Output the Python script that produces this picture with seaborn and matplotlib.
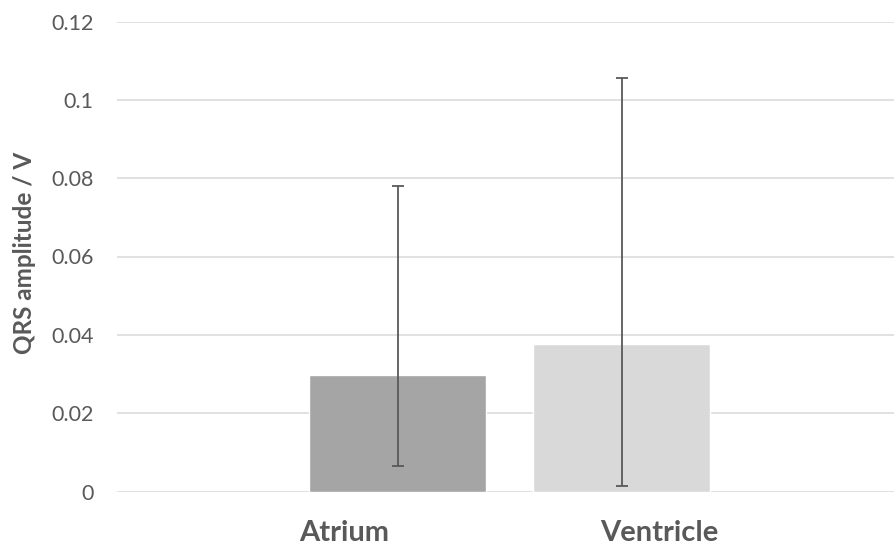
import matplotlib
matplotlib.use("Agg")
import matplotlib.pyplot as plt
import seaborn as sns
import pandas as pd
import numpy as np

categories = ["Atrium", "Ventricle"]
means = [0.0297, 0.0377]
err_low = [0.0297 - 0.0064, 0.0377 - 0.0014]
err_high = [0.0779 - 0.0297, 0.1057 - 0.0377]
bar_colors = ["#a5a5a5", "#d9d9d9"]
y_ticks = [0, 0.02, 0.04, 0.06, 0.08, 0.1, 0.12]
y_tick_labels = ["0", "0.02", "0.04", "0.06", "0.08", "0.1", "0.12"]

sns.set_theme(style="white")
plt.rcParams["font.family"] = ["Lato", "DejaVu Sans"]

df = pd.DataFrame({"category": categories, "value": means})

fig = plt.figure(figsize=(8.94, 5.47), dpi=100)
ax = fig.add_axes([117 / 894, 1 - 491.5 / 547, 1 - 117 / 894, 470 / 547])

sns.barplot(data=df, x="category", y="value", hue="category",
            palette=bar_colors, order=categories, hue_order=categories,
            width=0.79, saturation=1, legend=False, ax=ax, errorbar=None,
            zorder=3)

xpos = np.arange(len(categories))
ax.errorbar(xpos, means, yerr=[err_low, err_high], fmt="none",
            ecolor="#595959", elinewidth=1.3, capsize=4.5, capthick=1.3,
            zorder=4)

ax.set_xlim(-1.252, 2.216)
ax.set_ylim(0, 0.12)
ax.set_yticks(y_ticks)
ax.set_yticklabels(y_tick_labels)
ax.yaxis.grid(True, color="#d9d9d9", linewidth=1.1, zorder=0)
ax.set_axisbelow(True)
for sp in ax.spines.values():
    sp.set_visible(False)

ax.set_xticks([-0.239, 1.17])
ax.set_xticklabels(categories, fontsize=21, fontweight="bold", color="#595959")
ax.tick_params(axis="x", length=0, pad=20.5)
ax.tick_params(axis="y", length=0, pad=17, labelsize=15.5, labelcolor="#595959")
for lab in ax.get_yticklabels():
    lab.set_horizontalalignment("right")

ax.set_xlabel("")
ax.set_ylabel("QRS amplitude / V", fontsize=17.5, fontweight="bold",
              color="#595959")
ax.yaxis.set_label_coords(-(117 - 36) / 777, 0.5 + 4 / 470)

fig.savefig("out.png", dpi=100)
